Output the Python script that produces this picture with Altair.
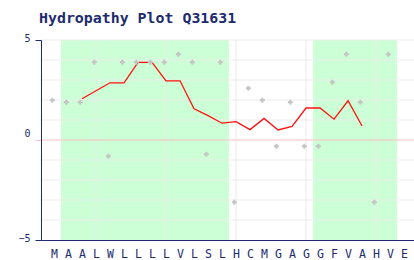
import json
import altair as alt
import pandas as pd

# ---- data ----
residues = list("MAALWLLLLVLSLHCMGAGGFVAHVE")
hydropathy = [1.9, 1.8, 1.8, 3.8, -0.9, 3.8, 3.8, 3.8, 3.8, 4.2, 3.8, -0.8, 3.8,
              -3.2, 2.5, 1.9, -0.4, 1.8, -0.4, -0.4, 2.8, 4.2, 1.8, -3.2, 4.2]
window_first = 2
window_avg = [2.06, 2.46, 2.86, 2.86, 3.88, 3.88, 2.96, 2.96, 1.56, 1.22, 0.84,
              0.92, 0.52, 1.08, 0.50, 0.68, 1.60, 1.60, 1.04, 1.96, 0.70]
band_first = [1, 19]
band_last = [12, 24]
x_grid = [3, 8, 13, 18, 23]
y_grid = [-4, -3, -2, -1, 1, 2, 3, 4, 5]
zero_line = [0]
title_text = "Hydropathy Plot Q31631"

NAVY = "#1d2b6e"
W, H = 373, 200

pts = pd.DataFrame({"i": list(range(len(hydropathy))), "v": hydropathy})
win = pd.DataFrame({"i": [window_first + k for k in range(len(window_avg))], "v": window_avg})
bands = pd.DataFrame({"a": band_first, "b": band_last})
xg = pd.DataFrame({"g": x_grid})
yg = pd.DataFrame({"g": y_grid})
zl = pd.DataFrame({"g": zero_line})

xs = alt.Scale(domain=[-0.93, 25.71], nice=False, zero=False)
ys = alt.Scale(domain=[-5, 5], nice=False, zero=False)

xaxis = alt.Axis(
    values=list(range(len(residues))),
    labelExpr=json.dumps(residues) + "[datum.value]",
    title=None, grid=False, ticks=False,
    domainColor=NAVY, domainWidth=1,
    labelColor=NAVY, labelFont="DejaVu Sans Mono", labelFontSize=11.5,
    labelPadding=8, labelOverlap=False, labelFlush=False, labelBound=False,
    zindex=1,
)
yaxis = alt.Axis(
    values=[-5, 0, 5],
    title=None, grid=False,
    domainColor=NAVY, domainWidth=1,
    tickSize=6,
    tickColor={"condition": {"test": "datum.value == 0", "value": "#ffc0c0"}, "value": NAVY},
    labelColor=NAVY, labelFont="DejaVu Sans Mono", labelFontSize=10,
    labelPadding=5,
    labelOffset={"condition": {"test": "datum.value == 0", "value": -7}, "value": -1.5},
    labelOverlap=False, labelFlush=False, labelBound=False,
    zindex=1,
)

band_layer = alt.Chart(bands).transform_calculate(
    x0="datum.a - 0.5", x1="datum.b + 0.5"
).mark_rect(color="#ccffd5").encode(
    x=alt.X("x0:Q", scale=xs, axis=xaxis),
    x2="x1:Q",
    y=alt.value(0), y2=alt.value(H),
)

vgrid = alt.Chart(xg).mark_rule(color="#ebebeb", strokeWidth=1).encode(
    x=alt.X("g:Q", scale=xs, axis=xaxis),
    y=alt.value(0), y2=alt.value(H),
)

hgrid = alt.Chart(yg).mark_rule(color="#ebebeb", strokeWidth=1).encode(
    y=alt.Y("g:Q", scale=ys, axis=yaxis),
    x=alt.value(0), x2=alt.value(W),
)

zero = alt.Chart(zl).mark_rule(color="#ffc0c0", strokeWidth=1).encode(
    y=alt.Y("g:Q", scale=ys, axis=yaxis),
    x=alt.value(0), x2=alt.value(W),
)

line = alt.Chart(win).mark_line(color="#ff1010", strokeWidth=1.3).encode(
    x=alt.X("i:Q", scale=xs, axis=xaxis),
    y=alt.Y("v:Q", scale=ys, axis=yaxis),
)

points = alt.Chart(pts).mark_point(
    shape="cross", filled=True, size=25, color="#c4c4c4", opacity=1,
    xOffset=-1.7, yOffset=-1.7,
).encode(
    x=alt.X("i:Q", scale=xs, axis=xaxis),
    y=alt.Y("v:Q", scale=ys, axis=yaxis),
)

title = alt.Chart(alt.Data(values=[{"t": title_text}])).mark_text(
    align="left", baseline="alphabetic", font="DejaVu Sans Mono",
    fontWeight="bold", fontSize=14.9, color=NAVY,
).encode(
    x=alt.value(-2), y=alt.value(-17.3), text="t:N",
)

chart = alt.layer(band_layer, vgrid, hgrid, zero, line, points, title).properties(
    width=W, height=H,
    autosize=alt.AutoSizeParams(type="none"),
    padding={"left": 41, "top": 40, "right": 0, "bottom": 20},
    background="white",
).configure_view(stroke=None)

chart.save("out.html", embed_options={"renderer": "svg", "actions": False})
